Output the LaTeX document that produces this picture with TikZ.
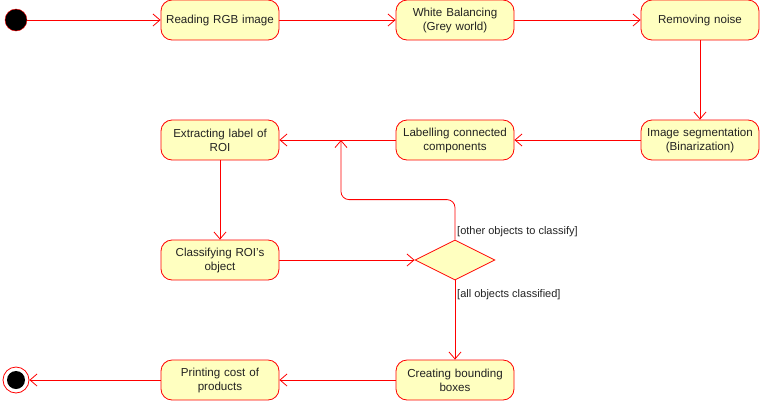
\documentclass[tikz,border=0pt]{standalone}
\usepackage{fontspec}
\setmainfont{Liberation Sans}
\usetikzlibrary{arrows.meta,shapes.geometric}

\definecolor{umlred}{HTML}{FF0000}
\definecolor{umlfill}{HTML}{FFFFC0}
\definecolor{umltext}{HTML}{222222}

\tikzset{
  action/.style={draw=umlred, fill=umlfill, line width=0.8pt, rounded corners=11pt,
    minimum width=118pt, minimum height=40pt, text width=114pt, align=center,
    inner sep=0pt, text=umltext, font=\fontsize{11.6}{14}\selectfont},
  decision/.style={draw=umlred, fill=umlfill, line width=0.8pt, diamond, aspect=2,
    minimum width=80pt, minimum height=40pt, inner sep=0pt},
  flow/.style={draw=umlred, line width=0.8pt, -{Straight Barb[length=7pt,width=12pt]}},
  guard/.style={anchor=west, inner sep=1pt, text=umltext, font=\fontsize{11}{12}\selectfont},
}

\begin{document}
\begin{tikzpicture}[x=1pt, y=-1pt]
  \useasboundingbox (0,0) rectangle (761,400);

  \node (start) at (16,20) [circle, fill=black, draw=umlred, minimum size=22pt, inner sep=0pt] {};
  \node (end) at (16,380) [circle, fill=white, draw=umlred, line width=0.8pt, minimum size=26pt, inner sep=0pt] {};
  \fill[black] (end) circle (9);

  \node (read) at (220, 20) [action] {Reading RGB image};
  \node (white) at (455, 20) [action] {White Balancing\\(Grey world)};
  \node (noise) at (700, 20) [action] {Removing noise};
  \node (segm) at (700,140) [action] {Image segmentation\\(Binarization)};
  \node (label) at (455,140) [action] {Labelling connected\\components};
  \node (extract) at (220,140) [action] {Extracting label of\\ROI};
  \node (classify) at (220,260) [action] {Classifying ROI's\\object};
  \node (dec) at (455,260) [decision] {};
  \node (boxes) at (455,380) [action] {Creating bounding\\boxes};
  \node (print) at (220,380) [action] {Printing cost of\\products};

  \coordinate (join) at (341,140);

  \draw[flow] (start) -- (read);
  \draw[flow] (read) -- (white);
  \draw[flow] (white) -- (noise);
  \draw[flow] (noise) -- (segm);
  \draw[flow] (segm) -- (label);
  \draw[flow] (label) -- (extract);
  \draw[flow] (extract) -- (classify);
  \draw[flow] (classify) -- (dec);
  \draw[flow, rounded corners=8pt] (dec.north) -- ++(0,-40) -| (join);
  \draw[flow] (dec.south) -- (boxes);
  \draw[flow] (boxes) -- (print);
  \draw[flow] (print) -- (end);

  \node (other) at (456,232) [guard] {[other objects to classify]};
  \node (all) at (456,295) [guard] {[all objects classified]};
\end{tikzpicture}
\end{document}
